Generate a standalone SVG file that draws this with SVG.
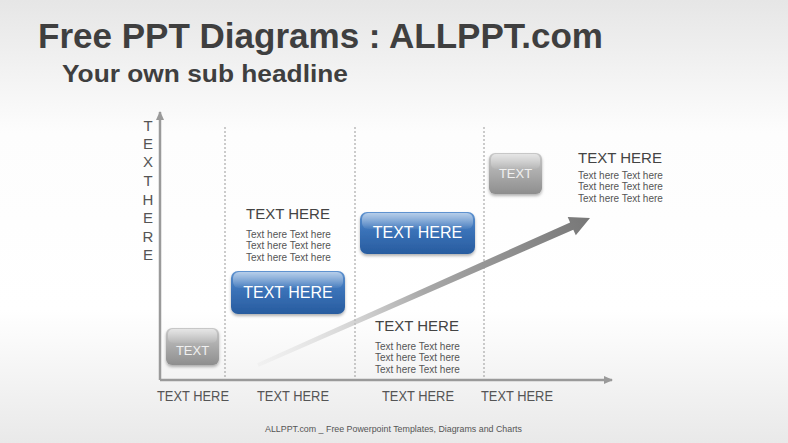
<svg xmlns="http://www.w3.org/2000/svg" width="788" height="443" viewBox="0 0 788 443">
<defs>
<linearGradient id="bg" x1="0" y1="0" x2="0" y2="1">
<stop offset="0" stop-color="#e6e6e6"/>
<stop offset="0.3" stop-color="#fdfdfd"/>
<stop offset="0.7" stop-color="#ffffff"/>
<stop offset="1" stop-color="#e9e9e9"/>
</linearGradient>
<linearGradient id="blue" x1="0" y1="0" x2="0" y2="1">
<stop offset="0" stop-color="#5f93d0"/>
<stop offset="0.45" stop-color="#3a72b8"/>
<stop offset="1" stop-color="#285c9f"/>
</linearGradient>
<linearGradient id="gray" x1="0" y1="0" x2="0" y2="1">
<stop offset="0" stop-color="#c8c8c8"/>
<stop offset="1" stop-color="#8e8e8e"/>
</linearGradient>
<linearGradient id="shine" x1="0" y1="0" x2="0" y2="1">
<stop offset="0" stop-color="#ffffff" stop-opacity="0.55"/>
<stop offset="1" stop-color="#ffffff" stop-opacity="0.05"/>
</linearGradient>
<linearGradient id="arr" gradientUnits="userSpaceOnUse" x1="258" y1="365" x2="590" y2="218">
<stop offset="0" stop-color="#dcdcdc" stop-opacity="0.2"/>
<stop offset="0.5" stop-color="#a8a8a8"/>
<stop offset="1" stop-color="#777777"/>
</linearGradient>
<filter id="sh" x="-20%" y="-20%" width="140%" height="150%">
<feDropShadow dx="0" dy="2" stdDeviation="1.5" flood-color="#000" flood-opacity="0.3"/>
</filter>
<marker id="ah" markerWidth="10" markerHeight="10" refX="8" refY="5" orient="auto" markerUnits="userSpaceOnUse">
<path d="M0,1 L9,5 L0,9 Z" fill="#9a9a9a"/>
</marker>
</defs>
<style>
.f{font-family:"Liberation Sans",Arial,sans-serif}
.h{font-size:15px;fill:#444}
.s{font-size:10px;fill:#555}
.bl{font-size:15px;fill:#555}
.bt{font-size:16px;fill:#fff}
.gt{font-size:13px;fill:#f0f0f0}
.dash{stroke:#999;stroke-width:1;stroke-dasharray:2,2}
.ax{stroke:#9a9a9a;stroke-width:2.5;fill:none}
</style>
<rect width="788" height="443" fill="url(#bg)"/>
<text class="f" x="38" y="48" font-size="35" font-weight="bold" fill="#3f3f3f" textLength="565" lengthAdjust="spacingAndGlyphs">Free PPT Diagrams : ALLPPT.com</text>
<text class="f" x="62" y="82" font-size="24" font-weight="bold" fill="#3f3f3f" textLength="286" lengthAdjust="spacingAndGlyphs">Your own sub headline</text>

<g id="connectors">
<line class="dash" x1="225" y1="127" x2="225" y2="380"/>
<line class="dash" x1="355" y1="127" x2="355" y2="380"/>
<line class="dash" x1="484" y1="127" x2="484" y2="380"/>
<line class="ax" x1="160" y1="380" x2="160" y2="112" marker-end="url(#ah)"/>
<line class="ax" x1="160" y1="380" x2="612" y2="380" marker-end="url(#ah)"/>
<path id="trend" d="M257.2,363.2 L570.1,222.4 L567.7,217 L590,218 L575.8,235.3 L573.3,229.8 L258.8,366.8 Z" fill="url(#arr)"/>
</g>

<g id="ylabel" class="f" font-size="15" fill="#555" text-anchor="middle">
<text x="148" y="131">T</text>
<text x="148" y="149">E</text>
<text x="148" y="167">X</text>
<text x="148" y="186">T</text>
<text x="148" y="205">H</text>
<text x="148" y="223">E</text>
<text x="148" y="242">R</text>
<text x="148" y="260">E</text>
</g>

<g id="box1">
<rect x="166" y="328" width="53" height="37" rx="6" fill="url(#gray)" filter="url(#sh)"/>
<rect x="168" y="329" width="49" height="14" rx="5" fill="url(#shine)"/>
<text class="f gt" x="192.5" y="355" text-anchor="middle">TEXT</text>
</g>
<g id="box2">
<rect x="231" y="271" width="114" height="43" rx="7" fill="url(#blue)" filter="url(#sh)"/>
<rect x="233" y="272" width="110" height="16" rx="6" fill="url(#shine)"/>
<text class="f bt" x="288" y="298" text-anchor="middle">TEXT HERE</text>
</g>
<g id="box3">
<rect x="360" y="212" width="115" height="42" rx="7" fill="url(#blue)" filter="url(#sh)"/>
<rect x="362" y="213" width="111" height="16" rx="6" fill="url(#shine)"/>
<text class="f bt" x="417.5" y="238" text-anchor="middle">TEXT HERE</text>
</g>
<g id="box4">
<rect x="489" y="153" width="53" height="41" rx="6" fill="url(#gray)" filter="url(#sh)"/>
<rect x="491" y="154" width="49" height="15" rx="5" fill="url(#shine)"/>
<text class="f gt" x="515.5" y="178" text-anchor="middle">TEXT</text>
</g>

<g id="note1" class="f">
<text class="h" x="246" y="219">TEXT HERE</text>
<text class="s" x="246" y="238">Text here Text here</text>
<text class="s" x="246" y="249">Text here Text here</text>
<text class="s" x="246" y="261">Text here Text here</text>
</g>
<g id="note2" class="f">
<text class="h" x="375" y="331">TEXT HERE</text>
<text class="s" x="375" y="350">Text here Text here</text>
<text class="s" x="375" y="361">Text here Text here</text>
<text class="s" x="375" y="373">Text here Text here</text>
</g>
<g id="note3" class="f">
<text class="h" x="578" y="163">TEXT HERE</text>
<text class="s" x="578" y="179">Text here Text here</text>
<text class="s" x="578" y="190">Text here Text here</text>
<text class="s" x="578" y="202">Text here Text here</text>
</g>

<g id="xlabels" class="f">
<text class="bl" x="157" y="401" textLength="72" lengthAdjust="spacingAndGlyphs">TEXT HERE</text>
<text class="bl" x="257" y="401" textLength="72" lengthAdjust="spacingAndGlyphs">TEXT HERE</text>
<text class="bl" x="382" y="401" textLength="72" lengthAdjust="spacingAndGlyphs">TEXT HERE</text>
<text class="bl" x="481" y="401" textLength="72" lengthAdjust="spacingAndGlyphs">TEXT HERE</text>
</g>

<text class="f" x="265" y="432" font-size="9" fill="#555" textLength="257" lengthAdjust="spacingAndGlyphs">ALLPPT.com _ Free Powerpoint Templates, Diagrams and Charts</text>
</svg>
